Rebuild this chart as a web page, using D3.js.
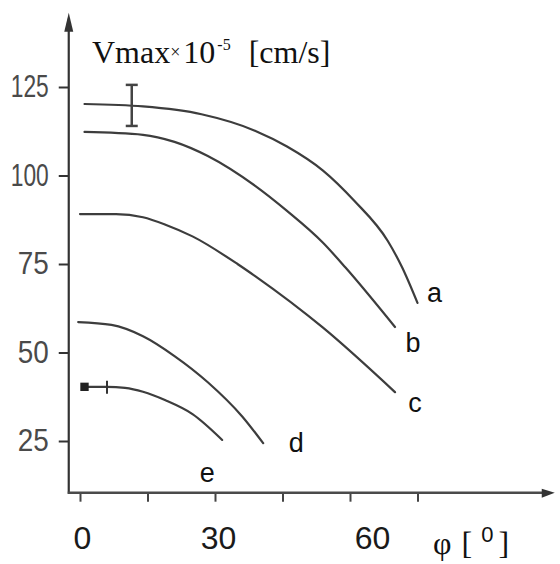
<!DOCTYPE html>
<html>
<head>
<meta charset="utf-8">
<script src="https://cdn.jsdelivr.net/npm/d3@7"></script>
<style>
  html, body { margin: 0; padding: 0; background: #fff; }
  svg { display: block; }
</style>
</head>
<body>
<div id="chart"></div>
<script>
// Vmax x 10^-5 vs phi, curves a..e
const curveNames = ["a", "b", "c", "d", "e"];
const phiA = [1, 14, 27, 39, 46, 54, 61, 68.4, 71.6, 75];
const vA   = [120.2, 119.5, 117.3, 112.6, 108.2, 101.4, 92.8, 81.5, 74, 64];
const phiB = [1, 14, 21, 28.4, 39, 46, 54, 59, 70];
const vB   = [112.3, 111.5, 109.5, 105.5, 97, 90, 81, 74, 57.2];
const phiC = [0, 8, 14, 19, 25, 35, 39, 54, 70];
const vC   = [89.1, 89.1, 88.2, 86.1, 82.8, 75, 71.5, 57, 38.8];
const phiD = [-0.4, 7, 14, 21, 28.4, 36, 40.7];
const vD   = [58.6, 57.8, 54.6, 49, 41.6, 32, 24.4];
const phiE = [1, 6, 10, 14, 19, 25, 31.6];
const vE   = [40.3, 40.3, 40, 38.9, 36.5, 32.6, 25.3];

// error bar on curve a
const errPhi = 11.5, errLow = 114, errHigh = 125.6;

const yTicks = [25, 50, 75, 100, 125];
const xTicks = [0, 15, 30, 45, 60, 75];
const xTickLabels = [0, 30, 60];

const width = 560, height = 564;
const lineColor = "#3d3d3d";

const x = d3.scaleLinear().domain([0, 60]).range([80, 350]);
const y = d3.scaleLinear().domain([25, 125]).range([441, 87]);

const svg = d3.select("#chart").append("svg")
    .attr("width", width).attr("height", height)
    .attr("viewBox", `0 0 ${width} ${height}`);

svg.append("rect").attr("width", width).attr("height", height).attr("fill", "#fff");

// axes extents (data units)
const xMin = -2.5, xMax = 105.5, yMin = 10.4, yMax = 146;
const ax = x(xMin), ay = y(yMin);

// y axis (narrow digits, like the scan)
const yAxis = svg.append("g").attr("transform", `translate(${ax},0)`)
    .call(d3.axisLeft(y).tickValues(yTicks).tickSize(10).tickPadding(10));
yAxis.select(".domain").remove();
yAxis.selectAll(".tick line").attr("stroke", "#333").attr("stroke-width", 2);
yAxis.selectAll(".tick text")
    .attr("font-family", "'Liberation Sans', Arial, sans-serif")
    .attr("font-size", 31).attr("fill", "#4a4a4a")
    .attr("textLength", d => String(d).length === 3 ? 38 : 31)
    .attr("lengthAdjust", "spacingAndGlyphs");

// x axis
const xLabelShift = { 0: 2, 30: 3, 60: 22 };
const xAxis = svg.append("g").attr("transform", `translate(0,${ay})`)
    .call(d3.axisBottom(x).tickValues(xTicks).tickSize(9).tickPadding(25)
        .tickFormat(d => xTickLabels.includes(d) ? d : ""));
xAxis.select(".domain").remove();
xAxis.selectAll(".tick line").attr("stroke", "#444").attr("stroke-width", 2);
xAxis.selectAll(".tick text")
    .attr("font-family", "'Liberation Sans', Arial, sans-serif")
    .attr("font-size", 32).attr("fill", "#1a1a1a")
    .attr("dx", d => xLabelShift[d] || 0);

// axis lines + arrows
svg.append("line").attr("x1", ax).attr("y1", ay + 1).attr("x2", ax).attr("y2", y(yMax) + 6)
    .attr("stroke", "#333").attr("stroke-width", 2.2);
svg.append("path")
    .attr("d", `M${ax},${y(yMax)} L${ax - 4.5},${y(yMax) + 19} L${ax + 4.5},${y(yMax) + 19} Z`)
    .attr("fill", "#333");
svg.append("line").attr("x1", ax - 1).attr("y1", ay).attr("x2", x(xMax) - 6).attr("y2", ay)
    .attr("stroke", "#4a4a4a").attr("stroke-width", 2.6);
svg.append("path")
    .attr("d", `M${x(xMax)},${ay} L${x(xMax) - 13},${ay - 4} L${x(xMax) - 13},${ay + 5} Z`)
    .attr("fill", "#333");

// curves
const series = [
    { name: "a", phi: phiA, v: vA, dx: 17, dy: -1 },
    { name: "b", phi: phiB, v: vB, dx: 18, dy: 25 },
    { name: "c", phi: phiC, v: vC, dx: 20, dy: 20 },
    { name: "d", phi: phiD, v: vD, dx: 33, dy: 9 },
    { name: "e", phi: phiE, v: vE, dx: -15, dy: 42 }
].map(s => ({ ...s, pts: s.phi.map((p, i) => [p, s.v[i]]) }));

const line = d3.line().x(d => x(d[0])).y(d => y(d[1])).curve(d3.curveMonotoneX);

svg.selectAll(".curve").data(series).enter().append("path")
    .attr("class", "curve").attr("d", d => line(d.pts))
    .attr("fill", "none").attr("stroke", lineColor).attr("stroke-width", 2.2)
    .attr("stroke-linecap", "round");

svg.selectAll(".clabel").data(series).enter().append("text")
    .attr("class", "clabel")
    .attr("x", d => x(d.phi[d.phi.length - 1]) + d.dx)
    .attr("y", d => y(d.v[d.v.length - 1]) + d.dy)
    .attr("text-anchor", "middle")
    .attr("font-family", "'Liberation Sans', Arial, sans-serif")
    .attr("font-size", 27).attr("fill", "#111")
    .text(d => d.name);

// error bar on a
const ex = x(errPhi);
svg.append("line").attr("x1", ex).attr("x2", ex).attr("y1", y(errHigh)).attr("y2", y(errLow))
    .attr("stroke", "#444").attr("stroke-width", 2.5);
[errHigh, errLow].forEach(v => {
    svg.append("line").attr("x1", ex - 6).attr("x2", ex + 6).attr("y1", y(v)).attr("y2", y(v))
        .attr("stroke", "#444").attr("stroke-width", 2.5);
});

// start marker + small tick on e
const e0 = series[4];
svg.append("path")
    .attr("transform", `translate(${x(e0.phi[0])},${y(e0.v[0])})`)
    .attr("d", d3.symbol(d3.symbolSquare, 70)())
    .attr("fill", "#222");
svg.append("line")
    .attr("x1", x(e0.phi[1])).attr("x2", x(e0.phi[1]))
    .attr("y1", y(e0.v[1]) - 6).attr("y2", y(e0.v[1]) + 7)
    .attr("stroke", "#333").attr("stroke-width", 2);

// y title
const title = svg.append("text").attr("x", 92).attr("y", 63)
    .attr("font-family", "'Liberation Serif', 'Times New Roman', serif")
    .attr("font-size", 32).attr("fill", "#111");
title.append("tspan").text("Vmax");
title.append("tspan").attr("font-size", 18).attr("dy", -5).text("×");
title.append("tspan").attr("dy", 5).attr("dx", 3).text("10");
title.append("tspan").attr("font-size", 16).attr("dy", -13).attr("dx", 2).text("-5");
title.append("tspan").attr("dy", 13).attr("dx", 18).text("[cm/s]");

// x title
const xt = svg.append("text").attr("x", 433).attr("y", 554)
    .attr("font-family", "'Liberation Serif', 'Times New Roman', serif")
    .attr("font-size", 32).attr("fill", "#111");
xt.append("tspan").text("φ");
xt.append("tspan").attr("dx", 10).text("[");
xt.append("tspan").attr("font-size", 22).attr("dy", -12).attr("dx", 9).attr("font-family", "'Liberation Sans', Arial, sans-serif").text("0");
xt.append("tspan").attr("dy", 12).attr("dx", 5).text("]");
</script>
</body>
</html>
